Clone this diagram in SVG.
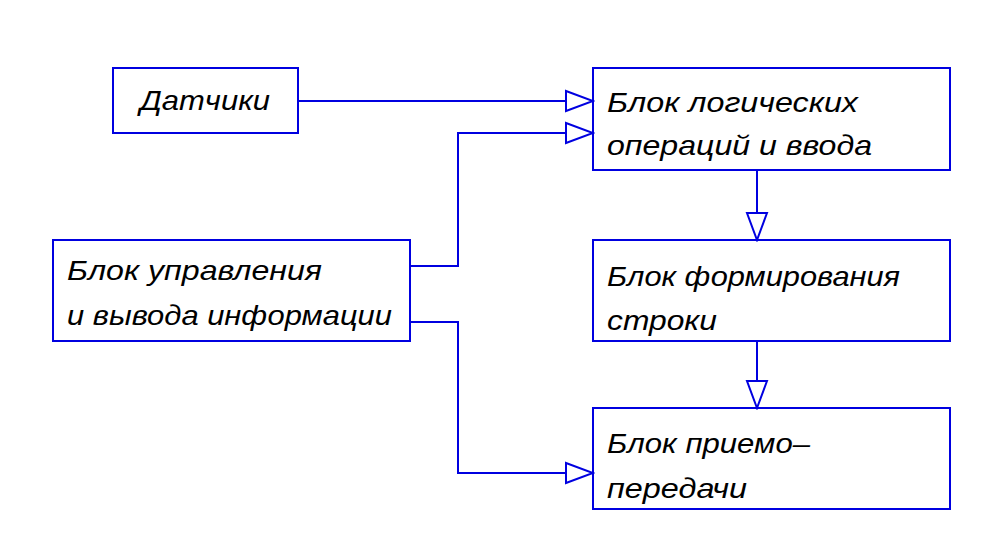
<svg xmlns="http://www.w3.org/2000/svg" width="986" height="541" viewBox="0 0 986 541">
<style>
.b{fill:none;stroke:#0000e0;stroke-width:2}
.t{font-family:"Liberation Sans",sans-serif;font-style:italic;font-size:28px;fill:#000}
.c{fill:none;stroke:#0000e0;stroke-width:2}
</style>
<defs>
<marker id="a" markerWidth="30" markerHeight="24" refX="28" refY="12" orient="auto" markerUnits="userSpaceOnUse">
<path d="M1,2 L28,12 L1,22 Z" fill="#fff" stroke="#0000e0" stroke-width="2"/>
</marker>
</defs>
<rect width="986" height="541" fill="#fff"/>
<g id="n1"><rect class="b" x="113" y="68" width="185" height="65"/><text class="t" x="140" y="110" textLength="130" lengthAdjust="spacingAndGlyphs">Датчики</text></g>
<g id="n2"><rect class="b" x="593" y="68" width="357" height="102"/><text class="t" x="607" y="112" textLength="251" lengthAdjust="spacingAndGlyphs">Блок логических</text><text class="t" x="607" y="155" textLength="265" lengthAdjust="spacingAndGlyphs">операций и ввода</text></g>
<g id="n3"><rect class="b" x="53" y="240" width="357" height="101"/><text class="t" x="67" y="280" textLength="255" lengthAdjust="spacingAndGlyphs">Блок управления</text><text class="t" x="67" y="325" textLength="325" lengthAdjust="spacingAndGlyphs">и вывода информации</text></g>
<g id="n4"><rect class="b" x="593" y="240" width="357" height="101"/><text class="t" x="607" y="286" textLength="293" lengthAdjust="spacingAndGlyphs">Блок формирования</text><text class="t" x="607" y="330" textLength="110" lengthAdjust="spacingAndGlyphs">строки</text></g>
<g id="n5"><rect class="b" x="593" y="408" width="357" height="101"/><text class="t" x="607" y="453" textLength="203" lengthAdjust="spacingAndGlyphs">Блок приемо–</text><text class="t" x="607" y="498" textLength="140" lengthAdjust="spacingAndGlyphs">передачи</text></g>
<g id="connectors">
<path class="c" d="M298,101 H593" marker-end="url(#a)"/>
<path class="c" d="M410,266 H458 V133 H593" marker-end="url(#a)"/>
<path class="c" d="M410,322 H458 V473 H593" marker-end="url(#a)"/>
<path class="c" d="M757,170 V240" marker-end="url(#a)"/>
<path class="c" d="M757,341 V408" marker-end="url(#a)"/>
</g>
</svg>
